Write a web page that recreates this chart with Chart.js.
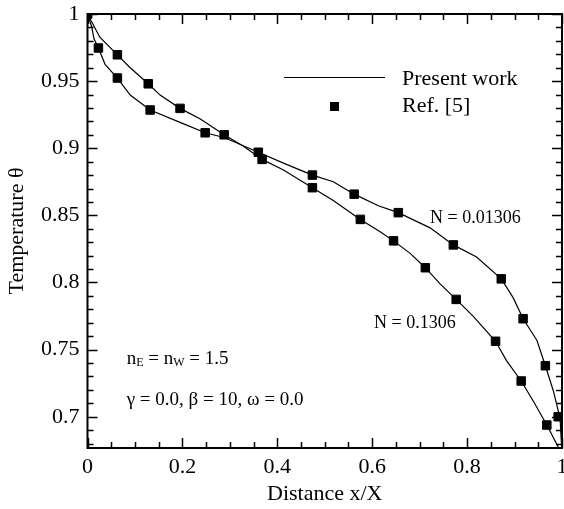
<!DOCTYPE html>
<html>
<head>
<meta charset="utf-8">
<script src="https://cdn.jsdelivr.net/npm/chart.js@4/dist/chart.umd.min.js"></script>
<style>
  html, body { margin: 0; padding: 0; background: #fff; overflow: hidden; }
  #wrap { width: 569px; height: 509px; }
</style>
</head>
<body>
<div id="wrap"><canvas id="temp-chart"></canvas></div>
<script>
// present work, N = 0.1306
const lineN1306X = [0, 0.026, 0.063, 0.09, 0.128, 0.153, 0.195, 0.237, 0.288, 0.328, 0.368, 0.413, 0.474, 0.518, 0.575, 0.616, 0.645, 0.68, 0.712, 0.743, 0.777, 0.813, 0.86, 0.883, 0.914, 0.94, 0.968, 1];
const lineN1306Y = [1, 0.9827, 0.9696, 0.96, 0.948, 0.9396, 0.9297, 0.9219, 0.91, 0.9016, 0.8917, 0.8838, 0.8706, 0.861, 0.847, 0.838, 0.831, 0.8217, 0.811, 0.799, 0.7874, 0.7747, 0.7562, 0.7418, 0.7266, 0.7113, 0.6938, 0.672];
// present work, N = 0.01306
const lineN01306X = [0, 0.009, 0.0137, 0.023, 0.037, 0.063, 0.09, 0.132, 0.195, 0.248, 0.288, 0.36, 0.413, 0.474, 0.518, 0.562, 0.613, 0.655, 0.722, 0.771, 0.82, 0.872, 0.897, 0.918, 0.947, 0.965, 0.982, 0.996, 1];
const lineN01306Y = [1, 0.9903, 0.9815, 0.9747, 0.9625, 0.9523, 0.9396, 0.9285, 0.9193, 0.9115, 0.908, 0.897, 0.8889, 0.88, 0.875, 0.8658, 0.8572, 0.852, 0.8407, 0.828, 0.819, 0.8027, 0.7887, 0.773, 0.757, 0.738, 0.719, 0.6986, 0.672];
// Ref. [5]
const refN1306X = [0, 0.063, 0.128, 0.195, 0.288, 0.368, 0.474, 0.575, 0.645, 0.712, 0.777, 0.86, 0.914, 0.968];
const refN1306Y = [1, 0.9696, 0.948, 0.9297, 0.91, 0.8917, 0.8706, 0.847, 0.831, 0.811, 0.7874, 0.7562, 0.7266, 0.6938];
const refN01306X = [0, 0.023, 0.063, 0.132, 0.248, 0.36, 0.474, 0.562, 0.655, 0.771, 0.872, 0.918, 0.965, 0.992];
const refN01306Y = [1, 0.9747, 0.9523, 0.9285, 0.9115, 0.897, 0.88, 0.8658, 0.852, 0.828, 0.8027, 0.773, 0.738, 0.7];

const xTicks = [0, 0.2, 0.4, 0.6, 0.8, 1];
const yTicks = [0.7, 0.75, 0.8, 0.85, 0.9, 0.95, 1];

const serif = "'Liberation Serif', 'Times New Roman', serif";

const pts = (xs, ys) => xs.map((x, i) => ({x: x, y: ys[i]}));

// inward ticks on all four sides + frame
const frameTicks = {
  id: 'frameTicks',
  afterDatasetsDraw(chart) {
    const {ctx, chartArea: a, scales} = chart;
    const xs = scales.x, ys = scales.y;
    ctx.save();
    ctx.strokeStyle = '#000';
    ctx.lineWidth = 1.5;
    ctx.beginPath();
    for (let i = 0; i <= 20; i++) {
      const px = Math.round(xs.getPixelForValue(i * 0.05)) + 0.5;
      const len = i % 4 === 0 ? 10 : 6;
      ctx.moveTo(px, a.bottom); ctx.lineTo(px, a.bottom - len);
      ctx.moveTo(px, a.top); ctx.lineTo(px, a.top + len);
    }
    for (let i = 68; i <= 100; i++) {
      const py = Math.round(ys.getPixelForValue(i / 100)) + 0.5;
      const len = i % 5 === 0 ? 10 : 6;
      ctx.moveTo(a.left, py); ctx.lineTo(a.left + len, py);
      ctx.moveTo(a.right, py); ctx.lineTo(a.right - len, py);
    }
    ctx.stroke();
    ctx.lineWidth = 2;
    ctx.strokeRect(a.left, a.top, a.right - a.left, a.bottom - a.top);
    ctx.restore();
  }
};

// legend and annotations
const notes = {
  id: 'notes',
  afterDraw(chart) {
    const {ctx, scales} = chart;
    const X = v => scales.x.getPixelForValue(v);
    const Y = v => scales.y.getPixelForValue(v);
    ctx.save();
    ctx.fillStyle = '#000';
    ctx.strokeStyle = '#000';
    ctx.textBaseline = 'middle';
    ctx.textAlign = 'left';

    // legend
    ctx.lineWidth = 1.2;
    ctx.beginPath();
    ctx.moveTo(284, 77.5); ctx.lineTo(385, 77.5);
    ctx.stroke();
    ctx.fillRect(330, 102, 9, 9);
    ctx.font = '22px ' + serif;
    ctx.fillText('Present work', 402, 79);
    ctx.fillText('Ref. [5]', 402, 106);

    // curve labels
    ctx.font = '18px ' + serif;
    ctx.fillText('N = 0.01306', X(0.722), Y(0.8478));
    ctx.fillText('N = 0.1306', X(0.604), Y(0.7694));

    // parameters
    const big = '19px ' + serif, small = '12px ' + serif;
    let x = X(0.0826);
    const y1 = Y(0.7428);
    const parts = [['n', big, 0], ['E', small, 4], [' = n', big, 0], ['W', small, 4], [' = 1.5', big, 0]];
    parts.forEach(p => {
      ctx.font = p[1];
      ctx.fillText(p[0], x, y1 + p[2]);
      x += ctx.measureText(p[0]).width;
    });
    ctx.font = big;
    ctx.fillText('\u03b3 = 0.0, \u03b2 = 10, \u03c9 = 0.0', X(0.0826), Y(0.7126));
    ctx.restore();
  }
};

const lineStyle = {showLine: true, borderColor: '#000', borderWidth: 1.2, pointRadius: 0, tension: 0};
const refStyle = {showLine: false, pointStyle: 'rect', pointRadius: 6, backgroundColor: '#000', borderColor: '#000', borderWidth: 1};

new Chart(document.getElementById('temp-chart'), {
  type: 'scatter',
  data: {
    datasets: [
      Object.assign({label: 'Present work N=0.1306', data: pts(lineN1306X, lineN1306Y)}, lineStyle),
      Object.assign({label: 'Present work N=0.01306', data: pts(lineN01306X, lineN01306Y)}, lineStyle),
      Object.assign({label: 'Ref. [5] N=0.1306', data: pts(refN1306X, refN1306Y)}, refStyle),
      Object.assign({label: 'Ref. [5] N=0.01306', data: pts(refN01306X, refN01306Y)}, refStyle)
    ]
  },
  options: {
    responsive: true,
    maintainAspectRatio: false,
    animation: false,
    layout: {padding: {top: 14, right: 2, left: 0, bottom: 0}},
    plugins: {legend: {display: false}, tooltip: {enabled: false}},
    scales: {
      x: {
        type: 'linear', min: 0, max: 1,
        afterBuildTicks: s => { s.ticks = xTicks.map(v => ({value: v})); },
        afterFit: s => { s.height = 61; s.paddingLeft = 0; s.paddingRight = 0; },
        grid: {display: false, drawTicks: false},
        border: {display: false},
        ticks: {color: '#000', font: {family: serif, size: 22}, padding: 6, maxRotation: 0,
          callback: v => String(+v.toFixed(2))},
        title: {display: true, text: 'Distance x/X', color: '#000', font: {family: serif, size: 22}, padding: {top: 0, bottom: 2}}
      },
      y: {
        type: 'linear', min: 0.6767, max: 1,
        afterBuildTicks: s => { s.ticks = yTicks.map(v => ({value: v})); },
        afterFit: s => { s.width = 87.5; s.paddingTop = 0; s.paddingBottom = 0; },
        grid: {display: false, drawTicks: false},
        border: {display: false},
        ticks: {color: '#000', font: {family: serif, size: 22}, padding: 8,
          callback: v => String(+v.toFixed(2))},
        title: {display: true, text: 'Temperature \u03b8', color: '#000', font: {family: serif, size: 22}, padding: {top: 4, bottom: 0}}
      }
    }
  },
  plugins: [frameTicks, notes]
});
</script>
</body>
</html>
